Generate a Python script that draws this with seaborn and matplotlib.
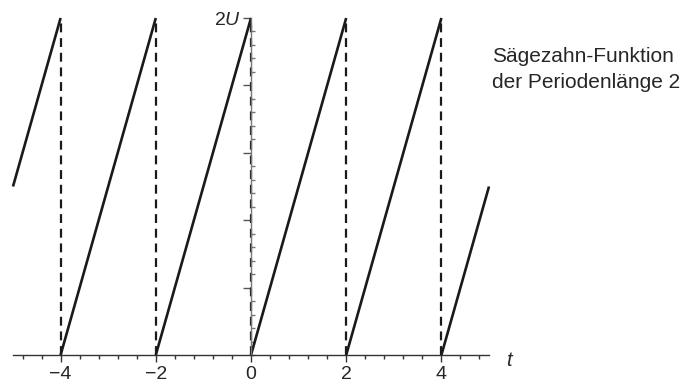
import numpy as np
import pandas as pd
import matplotlib
matplotlib.use("Agg")
import matplotlib.pyplot as plt
from matplotlib.ticker import MultipleLocator, FixedLocator
import seaborn as sns

# Sawtooth of period 2: each ramp goes from start to end value
seg_t_start = [-5, -4, -2, 0, 2, 4]
seg_t_end = [-4, -2, 0, 2, 4, 5]
seg_f_start = [1, 0, 0, 0, 0, 0]
seg_f_end = [2, 2, 2, 2, 2, 1]

# Jump positions (dashed verticals) and jump height
jump_t = [-4, -2, 0, 2, 4]
jump_height = 2

x_ticks = [-4, -2, 0, 2, 4]
x_tick_labels = ["\u22124", "\u22122", "0", "2", "4"]
y_top_label = r"$2U$"
caption = ["Sägezahn-Funktion", "der Periodenlänge 2"]

sns.set_theme(style="white")
plt.rcParams["font.family"] = ["Liberation Sans", "DejaVu Sans"]
plt.rcParams["mathtext.fontset"] = "custom"
plt.rcParams["mathtext.rm"] = "Liberation Sans"
plt.rcParams["mathtext.it"] = "Liberation Sans:italic"

rows = []
for i, (t0, t1, f0, f1) in enumerate(zip(seg_t_start, seg_t_end, seg_f_start, seg_f_end)):
    rows.append({"t": t0, "f": f0, "seg": i})
    rows.append({"t": t1, "f": f1, "seg": i})
ramps = pd.DataFrame(rows)

jrows = []
for j, tj in enumerate(jump_t):
    jrows.append({"t": tj, "f": 0, "seg": j})
    jrows.append({"t": tj, "f": jump_height, "seg": j})
jumps = pd.DataFrame(jrows)

W, H = 688, 387
fig = plt.figure(figsize=(W / 100, H / 100), dpi=100)
ax = fig.add_axes([13 / W, (H - 355) / H, (489 - 13) / W, (355 - 18) / H])

sns.lineplot(data=jumps, x="t", y="f", units="seg", estimator=None, ax=ax,
             color="#1a1a1a", lw=1.6, linestyle=(0, (4, 2.6)), clip_on=False,
             legend=False)
sns.lineplot(data=ramps, x="t", y="f", units="seg", estimator=None, ax=ax,
             color="#1a1a1a", lw=1.9, clip_on=False, legend=False,
             solid_capstyle="butt")

ax.set_xlim(-5, 5)
ax.set_ylim(0, 2)
ax.set_xlabel("")
ax.set_ylabel("")

for s in ["top", "right"]:
    ax.spines[s].set_visible(False)
ax.spines["left"].set_position(("data", 0))
ax.spines["bottom"].set_position(("data", 0))
ax.spines["left"].set_color("#777777")
ax.spines["bottom"].set_color("#333333")
ax.spines["left"].set_linewidth(1.0)
ax.spines["bottom"].set_linewidth(1.0)

ax.xaxis.set_major_locator(FixedLocator(x_ticks))
ax.set_xticklabels(x_tick_labels)
ax.xaxis.set_minor_locator(MultipleLocator(0.4))
ax.yaxis.set_minor_locator(MultipleLocator(0.08))
ax.set_yticks([0.4, 0.8, 1.2, 1.6, 2.0])
ax.set_yticklabels(["", "", "", "", y_top_label])

ax.tick_params(axis="x", which="major", direction="out", length=5, width=1,
               color="#333333", labelsize=14, pad=3, bottom=True)
ax.tick_params(axis="x", which="minor", direction="out", length=3, width=1,
               color="#333333", bottom=True)
ax.tick_params(axis="y", which="major", direction="out", length=6, width=1,
               color="#555555", labelsize=14, pad=1, left=True)
ax.tick_params(axis="y", which="minor", direction="in", length=3, width=1,
               color="#777777", left=True)

ax.text(5.41, -0.03, "t", fontsize=14.5, style="italic", ha="center", va="center",
        transform=ax.transData, clip_on=False)

fig.text(492 / W, 1 - 57 / H, caption[0], fontsize=15, ha="left", va="center")
fig.text(492 / W, 1 - 82 / H, caption[1], fontsize=15, ha="left", va="center")

fig.savefig("out.png", dpi=100)
